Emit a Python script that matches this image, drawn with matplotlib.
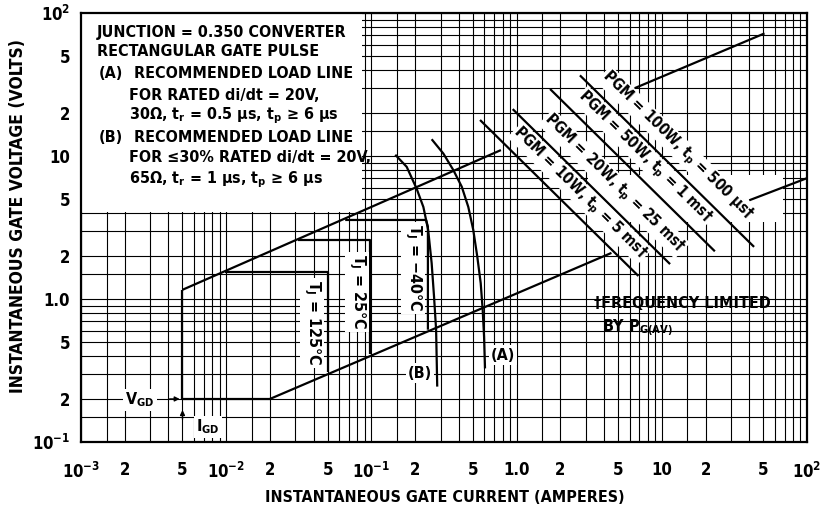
import matplotlib
matplotlib.use("Agg")
import matplotlib.pyplot as plt
from matplotlib.ticker import FixedLocator, NullFormatter
from matplotlib.patches import Rectangle

# ---------------------------------------------------------------------------
# donnees (courant I en A, tension V en V)
# ---------------------------------------------------------------------------
x_ticks = [1e-3, 2e-3, 5e-3, 1e-2, 2e-2, 5e-2, 1e-1, 2e-1, 5e-1, 1, 2, 5, 10, 20, 50, 100]
x_labels = ["$10^{-3}$", "2", "5", "$10^{-2}$", "2", "5", "$10^{-1}$", "2", "5",
            "1.0", "2", "5", "10", "2", "5", "$10^{2}$"]
y_ticks = [0.1, 0.2, 0.5, 1, 2, 5, 10, 20, 50, 100]
y_labels = ["$10^{-1}$", "2", "5", "1.0", "2", "5", "10", "2", "5", "$10^{2}$"]
grid_subs = [1, 1.5, 2, 3, 4, 5, 6, 7, 8, 9]

# droite de charge (A), deux morceaux visibles
load_a1_i = [5e-3, 0.78]
load_a1_v = [1.16, 11.0]
load_a2_i = [6.5, 51]
load_a2_v = [29.8, 72]
# droite de charge (B), deux morceaux visibles
load_b1_i = [2e-2, 4.5]
load_b1_v = [0.2, 2.1]
load_b2_i = [40, 100]
load_b2_v = [4.9, 7.0]

# V_GD / I_GD
vgd_i = [5e-3, 5e-3, 2e-2]
vgd_v = [1.16, 0.2, 0.2]

# limites Tj
tj125_i = [9.8e-3, 0.05, 0.05]
tj125_v = [1.55, 1.55, 0.31]
tj25_i = [0.031, 0.098, 0.098]
tj25_v = [2.6, 2.6, 0.41]
tj40_i = [0.066, 0.238, 0.245, 0.245]
tj40_v = [3.57, 3.57, 3.2, 0.61]

# courbes (A) et (B)
curve_b_i = [0.146, 0.175, 0.205, 0.228, 0.246, 0.260, 0.270, 0.279, 0.282, 0.284]
curve_b_v = [10.2, 8.4, 5.9, 4.4, 3.04, 1.78, 1.04, 0.61, 0.355, 0.244]
curve_a_i = [0.260, 0.313, 0.366, 0.419, 0.465, 0.503, 0.536, 0.566, 0.584, 0.597, 0.606]
curve_a_v = [13.1, 10.4, 8.0, 6.1, 4.4, 3.04, 1.98, 1.29, 0.84, 0.545, 0.327]

# puissance crete PGM
pgm_w = [10, 20, 50, 100]
pgm_i_start = [0.56, 0.94, 1.70, 2.73]
pgm_i_end = [6.9, 11.4, 23.2, 43.2]
pgm_label_i = [2.73, 4.69, 7.66, 12.7]
pgm_tp = ["5 ms\u2020", "25 ms\u2020", "1 ms\u2020", "500 \u03bcs\u2020"]

# ---------------------------------------------------------------------------
# style
# ---------------------------------------------------------------------------
plt.rcParams["font.family"] = ["DejaVu Sans"]
plt.rcParams["font.stretch"] = "condensed"
plt.rcParams["font.weight"] = "bold"
plt.rcParams["mathtext.fontset"] = "custom"
plt.rcParams["mathtext.rm"] = "DejaVu Sans:bold"
plt.rcParams["mathtext.it"] = "DejaVu Sans:bold"
plt.rcParams["mathtext.bf"] = "DejaVu Sans:bold"

W, H = 822, 515
fig = plt.figure(figsize=(W / 100, H / 100), dpi=100)
ax = fig.add_axes([81 / W, 1 - 442 / H, (807 - 81) / W, (442 - 13) / H])
ax.set_xscale("log")
ax.set_yscale("log")
ax.set_xlim(1e-3, 1e2)
ax.set_ylim(1e-1, 1e2)
ax.set_axisbelow(True)

def grille(lo, hi):
    vals = []
    for e in range(lo, hi):
        vals += [s * 10.0 ** e for s in grid_subs]
    return vals

ax.xaxis.set_major_locator(FixedLocator(x_ticks))
ax.xaxis.set_minor_locator(FixedLocator(grille(-3, 2)))
ax.yaxis.set_major_locator(FixedLocator(y_ticks))
ax.yaxis.set_minor_locator(FixedLocator(grille(-1, 2)))
ax.xaxis.set_minor_formatter(NullFormatter())
ax.yaxis.set_minor_formatter(NullFormatter())
ax.set_xticklabels(x_labels, fontsize=12)
ax.set_yticklabels(y_labels, fontsize=12)
ax.tick_params(which="both", length=0)
ax.tick_params(axis="x", pad=14)
ax.tick_params(axis="y", pad=8)
ax.grid(which="both", color="black", linewidth=0.8)
for sp in ax.spines.values():
    sp.set_linewidth(1.6)

# cadre blanc du texte en haut a gauche
ax.add_patch(Rectangle((0, 0.536), 0.387, 0.464, transform=ax.transAxes,
                       facecolor="white", edgecolor="none", zorder=1))

# ---------------------------------------------------------------------------
# traces
# ---------------------------------------------------------------------------
kw = dict(color="black", linewidth=1.6, zorder=3, solid_capstyle="butt")
ax.plot(load_a1_i, load_a1_v, **kw)
ax.plot(load_a2_i, load_a2_v, **kw)
ax.plot(load_b1_i, load_b1_v, **kw)
ax.plot(load_b2_i, load_b2_v, **kw)
ax.plot(vgd_i, vgd_v, **kw)
ax.plot(tj125_i, tj125_v, **kw)
ax.plot(tj25_i, tj25_v, **kw)
ax.plot(tj40_i, tj40_v, **kw)
ax.plot(curve_a_i, curve_a_v, **kw)
ax.plot(curve_b_i, curve_b_v, **kw)

for p, i0, i1, il, tp in zip(pgm_w, pgm_i_start, pgm_i_end, pgm_label_i, pgm_tp):
    ax.plot([i0, i1], [p / i0, p / i1], **kw)
    ax.text(il, 1.5 * p / il, f"PGM = {p}W, t$_\\mathregular{{p}}$ = {tp}",
            rotation=-44.5, rotation_mode="anchor", ha="center", va="center",
            fontsize=11, zorder=4,
            bbox=dict(facecolor="white", edgecolor="none", pad=0.5))

# fleches V_GD et I_GD
ax.annotate("", xy=(5e-3, 0.2), xytext=(3.9e-3, 0.2),
            arrowprops=dict(arrowstyle="-|>", color="black", lw=1, mutation_scale=7),
            zorder=4)
ax.annotate("", xy=(5e-3, 0.175), xytext=(5e-3, 0.138),
            arrowprops=dict(arrowstyle="-|>", color="black", lw=1, mutation_scale=7),
            zorder=4)

# ---------------------------------------------------------------------------
# textes (positions en pixels de la figure)
# ---------------------------------------------------------------------------
def txt(x, y, s, **k):
    k.setdefault("fontsize", 11.5)
    k.setdefault("va", "center")
    fig.text(x / W, 1 - y / H, s, **k)

blanc = dict(facecolor="white", edgecolor="none", pad=1.5)

txt(97, 32, "JUNCTION = 0.350 CONVERTER")
txt(97, 52, "RECTANGULAR GATE PULSE")
txt(99, 73, "(A)")
txt(134, 73, "RECOMMENDED LOAD LINE")
txt(129, 95, "FOR RATED di/dt = 20V,")
txt(129, 116, "30\u03a9, t$_\\mathregular{r}$ = 0.5 \u03bcs, t$_\\mathregular{p}$ \u2265 6 \u03bcs")
txt(99, 137, "(B)")
txt(134, 137, "RECOMMENDED LOAD LINE")
txt(129, 158, "FOR \u226430% RATED di/dt = 20V,")
txt(129, 180, "65\u03a9, t$_\\mathregular{r}$ = 1 \u03bcs, t$_\\mathregular{p}$ \u2265 6 \u03bcs")

txt(312, 323, "T$_\\mathregular{J}$ = 125\u00b0C", rotation=-90, ha="center", bbox=blanc)
txt(357, 292, "T$_\\mathregular{J}$ = 25\u00b0C", rotation=-90, ha="center", bbox=blanc)
txt(413, 268, "T$_\\mathregular{J}$ = \u221240\u00b0C", rotation=-90, ha="center", bbox=blanc)

txt(503, 355, "(A)", ha="center", bbox=blanc)
txt(420, 373, "(B)", ha="center", bbox=blanc)
txt(140, 400, "V$_\\mathregular{GD}$", ha="center", bbox=blanc)
txt(208, 427, "I$_\\mathregular{GD}$", ha="center", bbox=blanc)

ax.add_patch(Rectangle((588, 293), 195, 47, transform=None,
                       facecolor="white", edgecolor="none", zorder=1))
txt(594, 303, "\u2020FREQUENCY LIMITED")
txt(602, 328, "BY P$_\\mathregular{G(AV)}$")

txt(18, 216, "INSTANTANEOUS GATE VOLTAGE (VOLTS)", rotation=90, ha="center",
    fontsize=12.5)
txt(445, 497, "INSTANTANEOUS GATE CURRENT (AMPERES)", ha="center")

fig.savefig("out.png", dpi=100)
